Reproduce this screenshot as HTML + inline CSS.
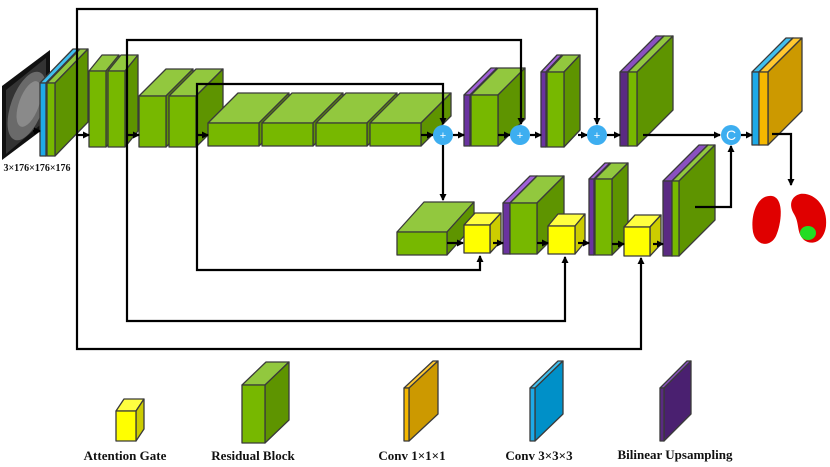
<!DOCTYPE html>
<html><head><meta charset="utf-8"><style>
html,body{margin:0;padding:0;background:#fff;width:830px;height:467px;overflow:hidden}
svg{display:block}
text{font-family:"Liberation Serif",serif;font-weight:bold;fill:#111}
</style></head><body>
<svg id="s" width="830" height="467" viewBox="0 0 830 467" xmlns="http://www.w3.org/2000/svg">
<defs><marker id="a" markerWidth="8" markerHeight="8" refX="6" refY="4" orient="auto" markerUnits="userSpaceOnUse"><path d="M0,0.5 L7,4 L0,7.5 z" fill="#000"/></marker></defs>
<!-- input image -->
<polygon points="2,86 50,50 50,124 2,160" fill="#111"/>
<polygon points="6,90 46,58 46,120 6,154" fill="#333"/>
<ellipse cx="27" cy="106" rx="16" ry="36" fill="#6a6a6a" transform="rotate(20 27 106)"/>
<ellipse cx="29" cy="104" rx="10" ry="24" fill="#8a8a8a" transform="rotate(20 29 104)"/>
<g id="boxes"></g>
<g fill="none" stroke="#000" stroke-width="2.2">
<polyline points="77,156 77,9 597,9 597,124" marker-end="url(#a)"/>
<polyline points="77,156 77,349 641,349 641,258" marker-end="url(#a)"/>
<polyline points="127,147 127,40 521,40 521,124" marker-end="url(#a)"/>
<polyline points="127,147 127,321 565,321 565,257" marker-end="url(#a)"/>
<polyline points="197,147 197,84 443,84 443,124" marker-end="url(#a)"/>
<polyline points="197,147 197,270 480,270 480,256" marker-end="url(#a)"/>
<line x1="33" y1="131" x2="40" y2="131" marker-end="url(#a)"/>
<line x1="78" y1="135" x2="89" y2="135" marker-end="url(#a)"/>
<line x1="127" y1="135" x2="139" y2="135" marker-end="url(#a)"/>
<line x1="197" y1="135" x2="208" y2="135" marker-end="url(#a)"/>
<line x1="421" y1="135" x2="433" y2="135" marker-end="url(#a)"/>
<line x1="453" y1="135" x2="464" y2="135" marker-end="url(#a)"/>
<line x1="498" y1="135" x2="510" y2="135" marker-end="url(#a)"/>
<line x1="530" y1="135" x2="541" y2="135" marker-end="url(#a)"/>
<line x1="578" y1="135" x2="587" y2="135" marker-end="url(#a)"/>
<line x1="607" y1="135" x2="620" y2="135" marker-end="url(#a)"/>
<line x1="643" y1="135" x2="720" y2="135" marker-end="url(#a)"/>
<line x1="741" y1="135" x2="752" y2="135" marker-end="url(#a)"/>
<polyline points="772,134 791,134 791,185" marker-end="url(#a)"/>
<line x1="443" y1="145" x2="443" y2="200" marker-end="url(#a)"/>
<line x1="447" y1="243" x2="463" y2="243" marker-end="url(#a)"/>
<line x1="493" y1="243" x2="503" y2="243" marker-end="url(#a)"/>
<line x1="537" y1="243" x2="548" y2="243" marker-end="url(#a)"/>
<line x1="578" y1="243" x2="589" y2="243" marker-end="url(#a)"/>
<line x1="612" y1="244" x2="624" y2="244" marker-end="url(#a)"/>
<line x1="653" y1="244" x2="663" y2="244" marker-end="url(#a)"/>
<polyline points="695,207 731,207 731,146" marker-end="url(#a)"/>
</g>
<g fill="#3daef0">
<circle cx="443" cy="135" r="10"/><circle cx="520" cy="135" r="10"/><circle cx="597" cy="135" r="10"/><circle cx="731" cy="135" r="10"/>
</g>
<text x="443" y="139" font-size="11" text-anchor="middle" style="fill:#fff;font-family:'Liberation Sans',sans-serif;font-weight:normal">+</text>
<text x="520" y="139" font-size="11" text-anchor="middle" style="fill:#fff;font-family:'Liberation Sans',sans-serif;font-weight:normal">+</text>
<text x="597" y="139" font-size="11" text-anchor="middle" style="fill:#fff;font-family:'Liberation Sans',sans-serif;font-weight:normal">+</text>
<text x="731" y="140" font-size="14" text-anchor="middle" style="fill:#fff;font-family:'Liberation Sans',sans-serif;font-weight:normal">C</text>
<!-- kidneys -->
<path d="M772,196 C784,198 782,222 776,236 C770,248 756,246 753,232 C750,214 758,194 772,196 Z" fill="#e00000"/>
<path d="M800,194 C814,192 828,206 826,226 C824,242 812,246 804,240 C796,232 800,224 794,214 C788,204 792,196 800,194 Z" fill="#e00000"/>
<ellipse cx="808" cy="233" rx="8" ry="7" fill="#22dd22"/>
<text x="37" y="171" font-size="10" text-anchor="middle">3×176×176×176</text>
<text x="125" y="460" font-size="13" text-anchor="middle">Attention Gate</text>
<text x="253" y="460" font-size="13" text-anchor="middle">Residual Block</text>
<text x="412" y="460" font-size="13" text-anchor="middle">Conv 1×1×1</text>
<text x="539" y="460" font-size="13" text-anchor="middle">Conv 3×3×3</text>
<text x="675" y="459" font-size="13" text-anchor="middle">Bilinear Upsampling</text>
</svg>
<script>
var G=["#77b800","#92c83e","#5e9400"],P=["#6a33a0","#a060d8","#5a2a82"],B=["#1eaae7","#40c0f0","#0090c8"],O=["#f5b800","#ffc830","#cc9900"],Y=["#ffff00","#ffff40","#cccc00"],PD=["#5a2a82","#8a50c0","#4a2070"];
var out="";
function box(x,y,w,h,dx,dy,c){
 var s='stroke="#3a3a3a" stroke-width="1.3" stroke-linejoin="round"';
 out+='<polygon '+s+' fill="'+c[1]+'" points="'+x+','+y+' '+(x+dx)+','+(y-dy)+' '+(x+w+dx)+','+(y-dy)+' '+(x+w)+','+y+'"/>';
 out+='<polygon '+s+' fill="'+c[2]+'" points="'+(x+w)+','+y+' '+(x+w+dx)+','+(y-dy)+' '+(x+w+dx)+','+(y+h-dy)+' '+(x+w)+','+(y+h)+'"/>';
 out+='<rect '+s+' fill="'+c[0]+'" x="'+x+'" y="'+y+'" width="'+w+'" height="'+h+'"/>';
}
box(40,83,6,73,33,34,B);box(47,83,8,73,33,34,G);
box(89,71,17,76,13,16,G);box(108,71,17,76,13,16,G);
box(139,96,27,51,27,27,G);box(169,96,27,51,27,27,G);
box(208,123,51,23,30,30,G);box(262,123,51,23,30,30,G);box(316,123,51,23,30,30,G);box(370,123,51,23,30,30,G);
box(464,95,6,51,27,27,P);box(471,95,27,51,27,27,G);
box(541,72,5,75,16,17,P);box(547,72,17,75,16,17,G);
box(620,72,8,74,36,36,PD);box(628,72,9,74,36,36,G);
box(752,72,7,73,34,34,B);box(759,72,9,73,34,34,O);
box(397,232,50,23,27,30,G);
box(464,225,26,28,11,12,Y);
box(503,203,7,51,27,27,P);box(510,203,27,51,27,27,G);
box(548,226,27,28,10,12,Y);
box(589,179,5,76,16,16,P);box(595,179,17,76,16,16,G);
box(624,227,26,29,11,12,Y);
box(663,181,9,75,36,36,PD);box(672,181,7,75,36,36,G);
box(116,411,20,30,8,12,Y);
box(242,385,23,58,24,23,G);
box(404,388,5,53,29,27,O);
box(530,388,5,53,28,27,B);
box(660,388,4,53,27,27,PD);
document.getElementById("boxes").innerHTML=out;
</script>
</body></html>
